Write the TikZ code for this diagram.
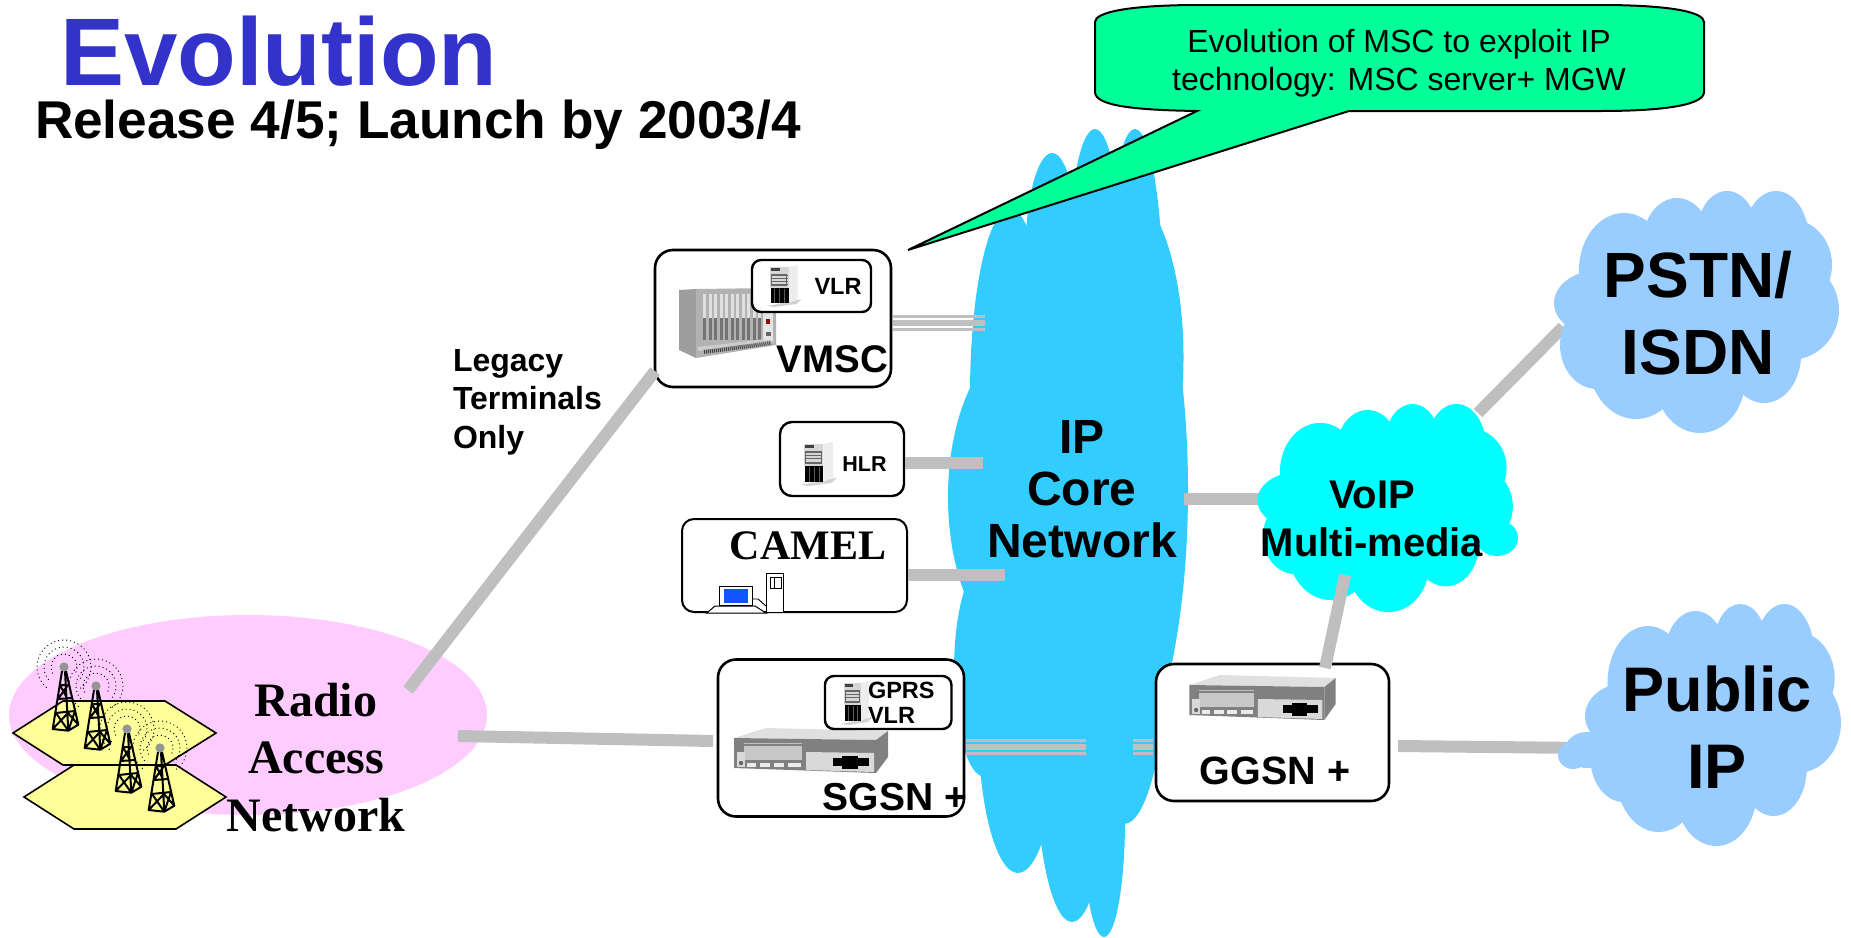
\documentclass[tikz,border=0pt]{standalone}
\usepackage{fontspec}
\setmainfont{Liberation Sans}
\newfontfamily\timesf{Liberation Serif}
\newcommand{\myfs}[2]{\fontsize{#1}{#2}\selectfont}
\definecolor{linkgray}{HTML}{BFBFBF}
\definecolor{ipblue}{HTML}{33CCFF}
\definecolor{cloudblue}{HTML}{99CCFF}
\definecolor{voipcyan}{HTML}{00FFFF}
\definecolor{ranpink}{HTML}{FFCCFF}
\definecolor{hexyellow}{HTML}{FFFF99}
\definecolor{callgreen}{HTML}{00FF99}
\definecolor{titleblue}{HTML}{3333CC}
\definecolor{screenblue}{HTML}{1155FF}
\tikzset{
  every node/.style={inner sep=0pt,outer sep=0pt},
  boxbig/.style={draw=black,fill=white,line width=2.6pt,rounded corners=18pt},
  boxsmall/.style={draw=black,fill=white,line width=2.4pt,rounded corners=9pt},
  boxmid/.style={draw=black,fill=white,line width=2.4pt,rounded corners=12pt},
  link/.style={draw=linkgray,line width=12pt},
  linkthin/.style={draw=linkgray,line width=3pt},
  linkmid/.style={draw=linkgray,line width=5.5pt},
  lbl/.style={anchor=base,text=black,font=\bfseries},
  hexcell/.style={draw=black,fill=hexyellow,line width=1.6pt,line join=miter},
  wave/.style={draw=black,line width=.9pt,dash pattern=on 1pt off 3pt},
  srvicon/.pic={
    \fill[gray!35] (-3,39) -- (19,35) -- (32,32) -- (27,37) -- (5,40) -- cycle;
    \fill[black!7] (19,0) -- (28,-2) -- (28,32) -- (19,36) -- cycle;
    \fill[black!16] (0,0) rectangle (19,21);
    \fill[black] (1,21) rectangle (19,36);
    \foreach \vy in {8,11,14,17} \draw[black!60,line width=.7pt] (1,\vy) -- (18,\vy);
    \draw[black!60,line width=.7pt] (2,7) rectangle (17,18);
    \fill[black!75] (1,1) rectangle (10,4);
    \foreach \vx in {5,10,15} \draw[black!65,line width=.4pt] (\vx,22) -- (\vx,36);
  },
  routericon/.pic={
    \fill[black!12] (0,0) -- (32,-10) -- (154,-7) -- (142,2) -- cycle;
    \fill[black!50] (0,0) -- (142,2) -- (142,35) -- (0,30) -- cycle;
    \fill[black!50] (142,2) -- (154,-7) -- (154,19) -- (142,35) -- cycle;
    \fill[black!22] (10,8) rectangle (68,22);
    \draw[black!25,line width=.8pt] (10,5) -- (68,5);
    \fill[black!15] (72,14) -- (140,15) -- (140,34) -- (72,32) -- cycle;
    \fill[black!15] (3,14) rectangle (11,29);
    \fill[black!60] (7,25) circle (2.2);
    \fill[black!8] (13,25) rectangle (67,29);
    \foreach \sx in {22,36,50} \fill[black!50] (\sx,24.5) rectangle (\sx+4,29);
    \fill[black] (99,20) rectangle (135,28);
    \fill[black] (108,18) rectangle (124,31);
  },
  towericon/.pic={
    \draw[black,line width=2pt,line join=round]
      (-2,4) -- (-11.3,62) -- (4.3,63.7) -- (14.3,57.7) -- (2,4)
      (1,4) -- (4.3,63.7)
      (-4,18) -- (5,18) (-6,32) -- (8,31) (-8.5,46) -- (11,44)
      (-4,18) -- (3,31) (4,18) -- (-6,32)
      (-8,46) -- (4.3,63.7) (4,46) -- (-11.3,62) (4,46) -- (14.3,57.7) (11,44) -- (4.3,63.7);
    \fill[black!42] (0,0) circle (4.6);
    \draw[wave] (0,0) ++(150:13) arc[start angle=150,end angle=395,radius=13];
    \draw[wave] (0,0) ++(140:20) arc[start angle=140,end angle=405,radius=20];
    \draw[wave] (0,0) ++(130:27) arc[start angle=130,end angle=415,radius=27];
  },
  cloudlobes/.pic={
    \fill (1695,310) ellipse [x radius=110,y radius=90];
    \foreach \cx/\cy/\rx/\ry in {1624/270/45/57,1677/245/35/47,1727/230/29/39,1776/240/33/49,1790/265/42/46,1790/310/49/50,1764/355/37/48,1700/380/45/53,1636/360/48/59,1597/345/37/44,1600/303/46/33}
      \fill (\cx,\cy) ellipse [x radius=\rx,y radius=\ry];
  }
}
\begin{document}
\begin{tikzpicture}[x=1pt,y=-1pt]
\useasboundingbox (0,0) rectangle (1851,937);
\fill[white] (0,0) rectangle (1851,937);

% radio access network
\fill[ranpink] (248,715) ellipse [x radius=239,y radius=100];
\draw[hexcell] (13,733) -- (63,701) -- (165,701) -- (216,733) -- (165,765) -- (63,765) -- cycle;
\draw[hexcell] (24,797) -- (74,765) -- (176,765) -- (226,797) -- (176,829) -- (74,829) -- cycle;
\pic at (64,667) {towericon};
\pic at (96,686) {towericon};
\pic at (127,729) {towericon};
\pic at (160,748) {towericon};

% IP core cloud
\begin{scope}[ipblue]
\fill (1000,230) rectangle (1100,820);
\fill (1010,395) ellipse [x radius=40,y radius=186];
\fill (1052,260) ellipse [x radius=27,y radius=107];
\fill (1095,260) ellipse [x radius=26,y radius=131];
\fill (1135,300) ellipse [x radius=28,y radius=171];
\fill (1120,357) ellipse [x radius=63.5,y radius=170];
\fill (1100,490) ellipse [x radius=88,y radius=300];
\fill (1124,620) ellipse [x radius=45,y radius=204];
\fill (1104,820) ellipse [x radius=21,y radius=117];
\fill (1072,760) ellipse [x radius=36,y radius=162];
\fill (1018,720) ellipse [x radius=40,y radius=153];
\fill (985,670) ellipse [x radius=31,y radius=107];
\fill (1030,497) ellipse [x radius=82,y radius=160];
\fill (1040,660) ellipse [x radius=82,y radius=140];
\end{scope}

% clouds: connectors to them run underneath
\coordinate (ipout) at (1184,499);
\coordinate (voipin) at (1262,499);
\coordinate (voipup) at (1478,413);
\coordinate (pstnin) at (1563,327);
\coordinate (ggsnout) at (1398,746);
\coordinate (pubin) at (1585,748);
\draw[link] (voipup) -- (pstnin);
\draw[link] (ggsnout) -- (pubin);
\draw[link] (ipout) -- (voipin);

\begin{scope}[cloudblue]
\pic at (0,0) {cloudlobes};
\pic[xscale=.898] at (189.51,413) {cloudlobes};
\end{scope}
\fill[cloudblue] (1573,755) ellipse [x radius=15,y radius=14];
\fill[cloudblue] (1587,750) ellipse [x radius=22,y radius=18];
\begin{scope}[voipcyan]
\pic[xscale=.896,yscale=.86] at (-134.88,239.74) {cloudlobes};
\end{scope}
\fill[voipcyan] (1497,538) ellipse [x radius=21,y radius=18];

% boxes
\node[boxbig,minimum width=236pt,minimum height=137pt] (vmsc) at (773,318.5) {};
% rack icon
\begin{scope}
\fill[black!38] (679,290) -- (696,289) -- (696,358) -- (679,350) -- cycle;
\fill[black!30] (696,289) -- (776,288) -- (776,345) -- (696,358) -- cycle;
\foreach \sx in {703,708.5,714,719.5,725,730.5,736,741.5,747,752.5,758} {
  \fill[black!12] (\sx,294) rectangle (\sx+3.2,318);
  \fill[black!55] (\sx,318) rectangle (\sx+3.2,340);
}
\draw[black!20,line width=4pt] (698,349) -- (774,340);
\draw[black!75,line width=4pt,dash pattern=on 1pt off 1pt] (704,352) -- (771,343);
\fill[black!10] (763,310) rectangle (773,340);
\fill[red!60!black] (766,319) rectangle (770,324);
\fill[black!60] (766,332) rectangle (771,336);
\end{scope}
\node[boxsmall,minimum width=119pt,minimum height=52pt] (vlrbox) at (811.5,286) {};
\pic at (769.5,267) {srvicon};
\node[boxmid,minimum width=124pt,minimum height=74pt] (hlr) at (842,459) {};
\pic[yscale=1.05,xscale=1.05] at (803.5,444) {srvicon};
\node[boxmid,line width=2pt,minimum width=225pt,minimum height=93pt] (camel) at (794.5,565.5) {};
% computer icon
\draw[black,fill=white,line width=1pt] (706.7,613) -- (715,606) -- (755,606) -- (766,613) -- cycle;
\draw[black,fill=white,line width=1pt] (719.3,586) rectangle (752.7,605);
\fill[screenblue] (724.3,588.7) rectangle (748.3,602.7);
\draw[black,line width=.9pt] (752.7,599) -- (758,599) -- (766,606);
\draw[black,fill=white,line width=1pt] (766.7,573.3) rectangle (783.3,612);
\draw[black,line width=.7pt] (770.5,577) rectangle (781.5,588.5) (774,577) -- (774,588.5);

\node[boxbig,minimum width=246pt,minimum height=157pt] (sgsn) at (841,738) {};
\pic at (734,738) {routericon};
\node[boxsmall,minimum width=126.5pt,minimum height=53pt] (gprsbox) at (888.2,702.5) {};
\pic[xscale=.9,yscale=1.05] at (843.7,683) {srvicon};
\node[boxbig,minimum width=233pt,minimum height=137pt] (ggsn) at (1272.5,732.5) {};
\pic[xscale=.95] at (1189.4,685) {routericon};

% connectors on top
\coordinate (vmscE) at (893,323);
\coordinate (ipW1) at (985,323);
\draw[linkthin] ([yshift=7pt]vmscE) -- ([yshift=7pt]ipW1);
\draw[linkmid] (vmscE) -- (ipW1);
\draw[linkthin] ([yshift=-6pt]vmscE) -- ([yshift=-6pt]ipW1);
\coordinate (hlrE) at (905,463);
\coordinate (ipW2) at (983,463);
\draw[link] (hlrE) -- (ipW2);
\coordinate (camelE) at (908,575);
\coordinate (ipW3) at (1005,575);
\draw[link] (camelE) -- (ipW3);
\coordinate (ranNE) at (408,690);
\coordinate (vmscSW) at (655,371);
\draw[link] (ranNE) -- (vmscSW);
\coordinate (ranE) at (458,736);
\coordinate (sgsnW) at (713,741);
\draw[link] (ranE) -- (sgsnW);
\coordinate (sgsnE) at (966,747);
\coordinate (ipE4) at (1086,747);
\draw[linkthin] ([yshift=7pt]sgsnE) -- ([yshift=7pt]ipE4);
\draw[linkmid] (sgsnE) -- (ipE4);
\draw[linkthin] ([yshift=-6pt]sgsnE) -- ([yshift=-6pt]ipE4);
\coordinate (ipE5) at (1133,747);
\coordinate (ggsnW) at (1153,747);
\draw[linkthin] ([yshift=7pt]ipE5) -- ([yshift=7pt]ggsnW);
\draw[linkmid] (ipE5) -- (ggsnW);
\draw[linkthin] ([yshift=-6pt]ipE5) -- ([yshift=-6pt]ggsnW);
\coordinate (voipS) at (1345,575);
\coordinate (ggsnN) at (1325,668);
\draw[link] (voipS) -- (ggsnN);

% callout
\draw[fill=callgreen,draw=black,line width=2pt,line join=miter] (908,250) -- (1197,111)
  .. controls (1135,110) and (1095,106) .. (1095,92) -- (1095,22)
  .. controls (1095,12) and (1130,5) .. (1200,5) -- (1600,5)
  .. controls (1670,5) and (1704,12) .. (1704,22) -- (1704,92)
  .. controls (1704,104) and (1670,111) .. (1600,111) -- (1349,111) -- cycle;

% texts
\node[anchor=base west,text=titleblue,font=\bfseries\myfs{96}{96}] (title) at (60,85) {Evolution};
\node[anchor=base west,font=\bfseries\myfs{53.2}{54}] (subtitle) at (35,138) {Release 4/5; Launch by 2003/4};
\node[anchor=base,align=center,font=\myfs{32}{38}] (calltext) at (1399,90) {Evolution of MSC to exploit IP\\technology: MSC server+ MGW};
\node[anchor=base west,align=left,font=\bfseries\myfs{32}{38.5}] (legacy) at (453,448) {Legacy\\Terminals\\Only};
\node[lbl,font=\bfseries\myfs{38.5}{40}] (vmsct) at (832.5,372) {VMSC};
\node[lbl,font=\bfseries\myfs{23.5}{25}] (vlrt) at (838,294) {VLR};
\node[lbl,font=\bfseries\myfs{21.5}{23}] (hlrt) at (864.5,471) {HLR};
\node[lbl,font=\timesf\bfseries\myfs{42}{44}] (camelt) at (808,559) {CAMEL};
\node[anchor=base west,align=left,font=\bfseries\myfs{23.5}{25}] (gprst) at (868,723) {GPRS\\VLR};
\node[lbl,font=\bfseries\myfs{39}{40}] (sgsnt) at (895,810) {SGSN +};
\node[lbl,font=\bfseries\myfs{39.5}{40}] (ggsnt) at (1275,784) {GGSN +};
\node[anchor=base,align=center,font=\timesf\bfseries\myfs{48}{57.5}] (rant) at (316,831) {Radio\\Access\\Network};
\node[anchor=base,align=center,font=\bfseries\myfs{48}{52}] (ipt) at (1082,557) {IP\\Core\\Network};
\node[anchor=base,align=center,font=\bfseries\myfs{40}{48}] (voipt) at (1372,556) {VoIP\\Multi-media};
\node[anchor=base,align=center,font=\bfseries\myfs{64}{77}] (pstnt) at (1698,374) {PSTN/\\ISDN};
\node[anchor=base,align=center,font=\bfseries\myfs{63}{77}] (pubt) at (1717,788) {Public\\IP};
\end{tikzpicture}
\end{document}
